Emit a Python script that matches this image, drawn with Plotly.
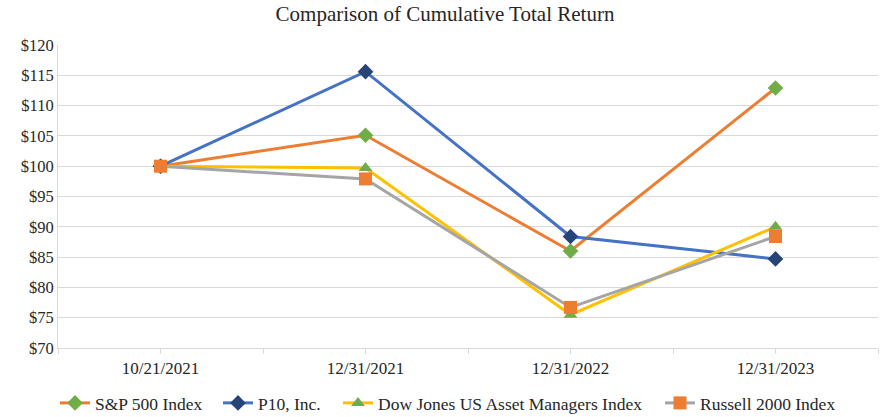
import plotly.graph_objects as go

categories = ["10/21/2021", "12/31/2021", "12/31/2022", "12/31/2023"]
sp500 = [100, 105.1, 86.0, 112.9]
p10 = [100, 115.6, 88.4, 84.7]
dow_jones_am = [100, 99.7, 75.5, 90.0]
russell2000 = [100, 97.9, 76.7, 88.4]
y_tickvals = [70, 75, 80, 85, 90, 95, 100, 105, 110, 115, 120]
y_ticktext = ["$" + str(v) for v in y_tickvals]

x_idx = list(range(len(categories)))

# (name, values, line colour, marker colour, symbol, marker size, legend id, legend text start px)
series = [
    ("S&P 500 Index", sp500, "#ED7D31", "#70AD47", "diamond", 12, "legend", 95),
    ("P10, Inc.", p10, "#4472C4", "#264478", "diamond", 12, "legend2", 258),
    ("Dow Jones US Asset Managers Index", dow_jones_am, "#FFC000", "#70AD47", "triangle-up", 12, "legend3", 378),
    ("Russell 2000 Index", russell2000, "#A5A5A5", "#ED7D31", "square", 13, "legend4", 700),
]

FONT = "Liberation Serif"
TXT = "#262626"
W, H = 880, 417

fig = go.Figure()
legends = {}
for name, vals, lc, mc, sym, ms, lg, tx in series:
    fig.add_trace(go.Scatter(
        x=x_idx, y=vals, name=name, mode="lines+markers", legend=lg,
        line=dict(color=lc, width=3),
        marker=dict(color=mc, symbol=sym, size=ms, line=dict(width=0)),
    ))
    legends[lg] = dict(orientation="h", x=(tx - 40) / W, xref="container", xanchor="left",
                       y=1 - 403 / H, yref="container", yanchor="middle",
                       font=dict(family=FONT, size=17.5, color=TXT),
                       itemwidth=30, bgcolor="rgba(0,0,0,0)")

fig.update_layout(
    width=W, height=H,
    margin=dict(l=58, r=2, t=45, b=69),
    paper_bgcolor="white", plot_bgcolor="white",
    font=dict(family=FONT, size=16, color=TXT),
    title=dict(text="Comparison of Cumulative Total Return",
               x=445 / W, xref="container", xanchor="center",
               y=1 - 14 / H, yref="container", yanchor="middle",
               font=dict(family=FONT, size=21, color=TXT)),
    showlegend=True,
    xaxis=dict(range=[-0.5, len(categories) - 0.5],
               tickvals=x_idx, ticktext=categories,
               showgrid=False, zeroline=False,
               showline=True, linecolor="#D9D9D9", linewidth=1,
               ticks="outside", ticklen=5, tickcolor="#D9D9D9",
               minor=dict(tick0=-0.5, dtick=1, ticks="outside", ticklen=5,
                          tickcolor="#D9D9D9", showgrid=False),
               tickfont=dict(family=FONT, size=17, color=TXT)),
    yaxis=dict(range=[70, 120], tickvals=y_tickvals, ticktext=y_ticktext,
               showgrid=True, gridcolor="#D9D9D9", gridwidth=1,
               zeroline=False, showline=True, linecolor="#D9D9D9",
               ticks="", ticklabelstandoff=0,
               tickfont=dict(family=FONT, size=16.5, color=TXT)),
    **legends,
)

fig.write_html("out.html", config={"displayModeBar": False},
               post_script="document.body.style.margin='0';document.body.style.overflow='hidden';")
